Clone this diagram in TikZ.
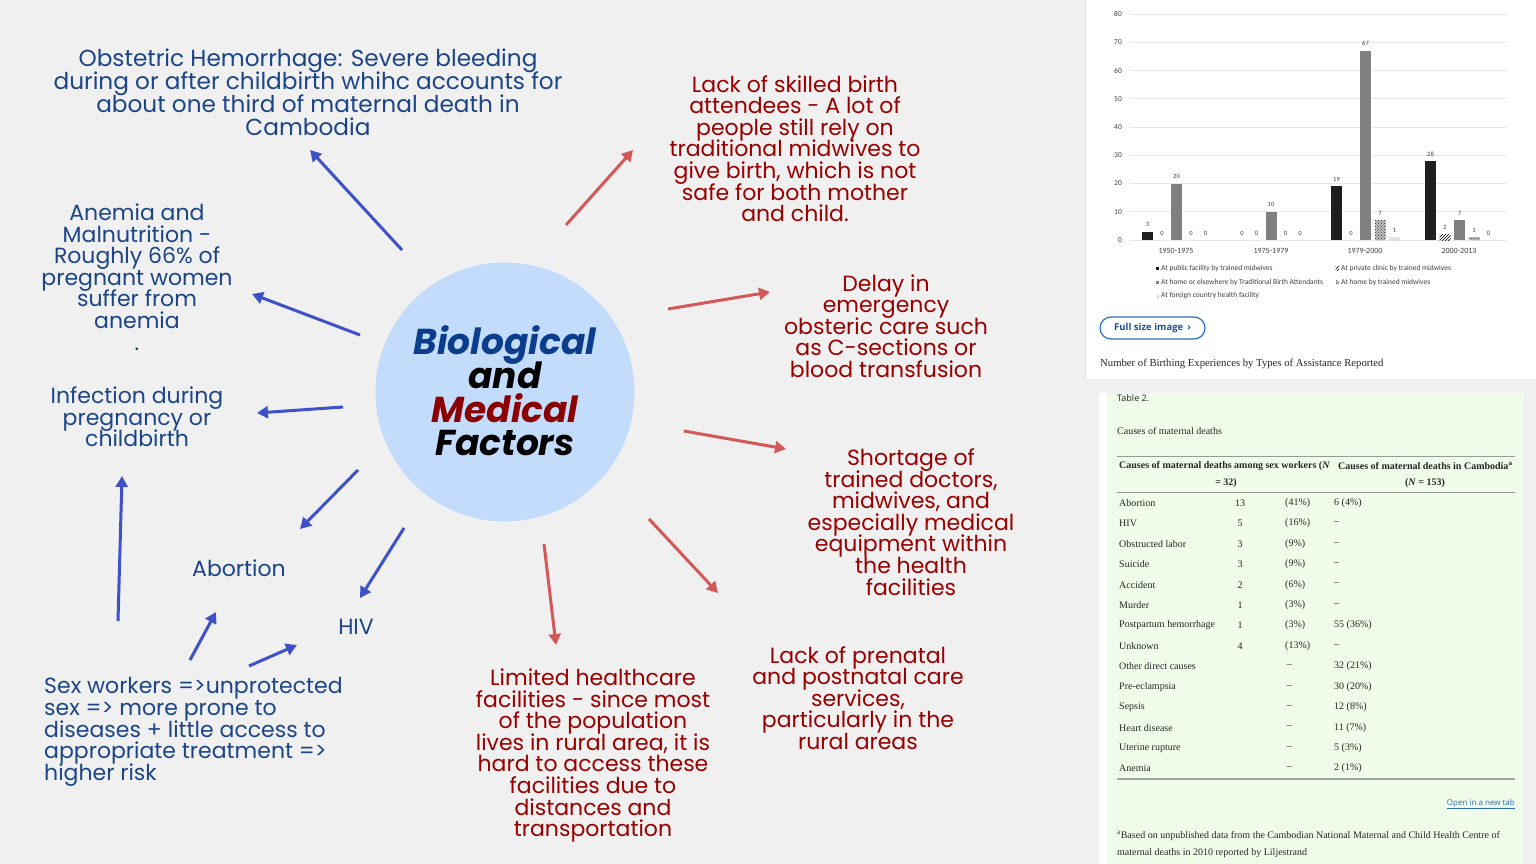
\documentclass[tikz,border=0pt]{standalone}
\usepackage{fontspec}
\setmainfont{Poppins}
\newfontfamily\popf{Poppins}
\newfontfamily\carl{Carlito}
\newfontfamily\serf{Liberation Serif}
\newfontfamily\osans{Open Sans}
\usetikzlibrary{arrows.meta,patterns}
\definecolor{pagebg}{HTML}{F0F0F0}
\definecolor{blueT}{HTML}{1C4587}
\definecolor{redT}{HTML}{990000}
\definecolor{arrowB}{HTML}{3F51C9}
\definecolor{arrowR}{HTML}{D35858}
\definecolor{circfill}{HTML}{C4DCFB}
\definecolor{titleB}{HTML}{0B3D8C}
\definecolor{titleR}{HTML}{8B0000}
\definecolor{tablebg}{HTML}{F0FCEA}
\definecolor{gridc}{HTML}{E8E8E8}
\definecolor{axisT}{HTML}{404040}
\definecolor{linkB}{HTML}{2A6EBB}
\definecolor{btnB}{HTML}{1D4F91}
\newcommand\bodyfont{\popf\fontsize{22}{21.6}\selectfont}
\newcommand\cbar[3]{%
  \ifdim #2pt>0pt
    \path[#3] ({#1-5.5},240) rectangle ({#1+5.5},{240-2.825*#2});
  \fi
  \node[vlab] at ({#1},{240-2.825*#2-7}) {#2};
}
\newcommand\trow[5]{%
  \node[tcell,anchor=west] at (1119,#1) {#2};
  \node[tcell] at (1240,#1) {#3};
  \node[tcell,anchor=west] at (1285,#1) {#4};
  \node[tcell,anchor=west] at (1334,#1) {#5};
}
\tikzset{
  bluetxt/.style={text=blueT, align=center, font=\bodyfont, inner sep=0pt},
  redtxt/.style={text=redT, align=center, font=\bodyfont, inner sep=0pt},
  barrow/.style={draw=arrowB, line width=3pt, -{Triangle[length=11pt,width=12pt]}},
  rarrow/.style={draw=arrowR, line width=3pt, -{Triangle[length=11pt,width=12pt]}},
  vlab/.style={font=\carl\fontsize{6.5}{7}\selectfont, text=axisT, inner sep=0pt},
  ylab/.style={font=\carl\fontsize{7.5}{8}\selectfont, text=axisT, inner sep=0pt, anchor=east},
  clab/.style={font=\carl\fontsize{8}{9}\selectfont, text=axisT, inner sep=0pt},
  leg/.style={font=\carl\fontsize{7.5}{8}\selectfont, text=axisT, inner sep=0pt, anchor=west},
  bara/.style={fill=black!88},
  barb/.style={pattern={north east lines}, pattern color=black},
  barc/.style={fill=black!50},
  bard/.style={fill=black!25, postaction={pattern=crosshatch dots, pattern color=black!80}},
  bare/.style={fill=black!8, postaction={pattern=dots, pattern color=black!60}},
  tcell/.style={font=\serf\fontsize{10}{12}\selectfont, text=black!85, inner sep=0pt},
  thead/.style={font=\serf\bfseries\fontsize{10}{12}\selectfont, text=black!85, inner sep=0pt},
}
\begin{document}
\lineskiplimit=-100pt\relax
\lineskip=0pt\relax
\begin{tikzpicture}[x=1pt,y=-1pt]
\useasboundingbox (0,0) rectangle (1536,864);
\fill[pagebg] (0,0) rectangle (1536,864);

% ---------- chart panel ----------
\fill[white] (1086,0) rectangle (1536,379);
\draw[black!12] (1085.5,0) -- (1085.5,379);
\foreach \v in {0,10,...,80} {
  \draw[gridc, line width=0.8pt] (1130,{240-2.825*\v}) -- (1507,{240-2.825*\v});
  \node[ylab] at (1122,{240-2.825*\v}) {\v};
}
% group 1
\cbar{1147.5}{3}{bara}
\cbar{1162}{0}{barb}
\cbar{1176.5}{20}{barc}
\cbar{1191}{0}{bard}
\cbar{1205.5}{0}{bare}
% group 2
\cbar{1242}{0}{bara}
\cbar{1256.5}{0}{barb}
\cbar{1271}{10}{barc}
\cbar{1285.5}{0}{bard}
\cbar{1300}{0}{bare}
% group 3
\cbar{1336.5}{19}{bara}
\cbar{1351}{0}{barb}
\cbar{1365.5}{67}{barc}
\cbar{1380}{7}{bard}
\cbar{1394.5}{1}{bare}
% group 4
\cbar{1430.5}{28}{bara}
\cbar{1445}{2}{barb}
\cbar{1459.5}{7}{barc}
\cbar{1474}{1}{bard}
\cbar{1488.5}{0}{bare}
\node[clab] at (1176,251) {1950-1975};
\node[clab] at (1271,251) {1975-1979};
\node[clab] at (1365,251) {1979-2000};
\node[clab] at (1459,251) {2000-2013};
% legend
\path[bara] (1155.5,266.5) rectangle (1159,270);
\node[leg] at (1161,268) {At public facility by trained midwives};
\path[barb] (1335.5,266.5) rectangle (1339,270);
\node[leg] at (1341,268) {At private clinic by trained midwives};
\path[barc] (1155.5,280.5) rectangle (1159,284);
\node[leg] at (1161,282) {At home or elsewhere by Traditional Birth Attendants};
\path[bard] (1335.5,280.5) rectangle (1339,284);
\node[leg] at (1341,282) {At home by trained midwives};
\path[bare] (1155.5,294.5) rectangle (1159,298);
\node[leg] at (1161,296) {At foreign country health facility};
% button and caption
\node[draw=linkB, line width=1.2pt, rounded corners=11pt, minimum width=105pt, minimum height=22pt,
      inner sep=0pt, text=btnB, font=\osans\bfseries\fontsize{9.5}{11}\selectfont] (btn) at (1152.5,328) {Full size image \,›};
\node[anchor=west, inner sep=0pt, text=black!85, font=\serf\fontsize{10.7}{12}\selectfont] (cap) at (1100,364)
  {Number of Birthing Experiences by Types of Assistance Reported};

% ---------- table panel ----------
\fill[white] (1099,393) rectangle (1107,864);
\fill[tablebg] (1107,393) rectangle (1525,864);
\draw[black!8] (1524.5,393) -- (1524.5,864);
\node[anchor=west, inner sep=0pt, text=black!85, font=\osans\fontsize{9}{11}\selectfont] (tt) at (1117,398) {Table 2.};
\node[anchor=west, inner sep=0pt, text=black!85, font=\serf\fontsize{10}{12}\selectfont] (tsub) at (1117,431) {Causes of maternal deaths};
\draw[black!40, line width=1pt] (1117,456) -- (1515,456);
\node[thead, anchor=west] at (1119,466) {Causes of maternal deaths among sex workers (\textit{N}};
\node[thead] at (1226,483) {= 32)};
\node[thead, anchor=west] at (1338,466) {Causes of maternal deaths in Cambodia\textsuperscript{a}};
\node[thead] at (1425,483) {(\textit{N} = 153)};
\draw[black!40, line width=1pt] (1117,492.5) -- (1515,492.5);
\trow{503}{Abortion}{13}{(41\%)}{6 (4\%)}
\trow{523.4}{HIV}{5}{(16\%)}{–}
\trow{543.8}{Obstructed labor}{3}{(9\%)}{–}
\trow{564.3}{Suicide}{3}{(9\%)}{–}
\trow{584.7}{Accident}{2}{(6\%)}{–}
\trow{605.1}{Murder}{1}{(3\%)}{–}
\trow{625.5}{Postpartum hemorrhage}{1}{(3\%)}{55 (36\%)}
\trow{646}{Unknown}{4}{(13\%)}{–}
\trow{666.4}{Other direct causes}{}{\,–}{32 (21\%)}
\trow{686.8}{Pre-eclampsia}{}{\,–}{30 (20\%)}
\trow{707.2}{Sepsis}{}{\,–}{12 (8\%)}
\trow{727.6}{Heart disease}{}{\,–}{11 (7\%)}
\trow{748.1}{Uterine rupture}{}{\,–}{5 (3\%)}
\trow{768.5}{Anemia}{}{\,–}{2 (1\%)}
\draw[black!35, line width=1.6pt] (1117,779) -- (1515,779);
\node[anchor=east, inner sep=0pt, text=linkB, font=\osans\fontsize{8}{10}\selectfont] (lnk) at (1515,804) {\underline{Open in a new tab}};
\node[anchor=west, inner sep=0pt, text=black!85, font=\serf\fontsize{10}{12}\selectfont] (fn1) at (1117,836)
  {\textsuperscript{a}Based on unpublished data from the Cambodian National Maternal and Child Health Centre of};
\node[anchor=west, inner sep=0pt, text=black!85, font=\serf\fontsize{10}{12}\selectfont] (fn2) at (1117,853)
  {maternal deaths in 2010 reported by Liljestrand};

% ---------- central circle ----------
\node[circle, fill=circfill, minimum size=259pt, inner sep=0pt] (circ) at (505,392) {};
\node[align=center, inner sep=0pt, font=\popf\bfseries\itshape\fontsize{36}{33.7}\selectfont] (title) at (505,391)
  {\textcolor{titleB}{Biological}\\and\\\textcolor{titleR}{Medical}\\Factors};

% ---------- text blocks ----------
\node[bluetxt, font=\popf\fontsize{23.2}{23}\selectfont] (obst) at (308,92)
  {Obstetric Hemorrhage: Severe bleeding\\during or after childbirth whihc accounts for\\about one third of maternal death in\\Cambodia};
\node[bluetxt] (anem) at (137,277)
  {Anemia and\\Malnutrition -\\Roughly 66\% of\\pregnant women\\suffer from\\anemia\\.};
\node[bluetxt] (infe) at (137,417) {Infection during\\pregnancy or\\childbirth};
\node[bluetxt] (abor) at (239,568) {Abortion};
\node[bluetxt] (hiv) at (356,627) {HIV};
\node[bluetxt, align=left, anchor=west] (sexw) at (44,732)
  {Sex workers =>unprotected\\sex => more prone to\\diseases + little access to\\appropriate treatment =>\\higher risk};
\node[redtxt] (skil) at (795,148.5)
  {Lack of skilled birth\\attendees - A lot of\\people still rely on\\traditional midwives to\\give birth, which is not\\safe for both mother\\and child.};
\node[redtxt] (dela) at (886,326)
  {Delay in\\emergency\\obsteric care such\\as C-sections or\\blood transfusion};
\node[redtxt] (shor) at (911,522)
  {Shortage of\\trained doctors,\\midwives, and\\especially medical\\equipment within\\the health\\facilities};
\node[redtxt] (pren) at (858,698)
  {Lack of prenatal\\and postnatal care\\services,\\particularly in the\\rural areas};
\node[redtxt] (limi) at (593,755.5)
  {Limited healthcare\\facilities - since most\\of the population\\lives in rural area, it is\\hard to access these\\facilities due to\\distances and\\transportation};

% ---------- arrows ----------
\coordinate (b1s) at (402,250); \coordinate (b1e) at (310,150);
\coordinate (b2s) at (360,335); \coordinate (b2e) at (252,294);
\coordinate (b3s) at (343,407); \coordinate (b3e) at (257,413);
\coordinate (b4s) at (358,470); \coordinate (b4e) at (300,529);
\coordinate (b5s) at (404,528); \coordinate (b5e) at (360,598);
\coordinate (b6s) at (118,621); \coordinate (b6e) at (122,476);
\coordinate (b7s) at (190,660); \coordinate (b7e) at (216,612);
\coordinate (b8s) at (249,666); \coordinate (b8e) at (297,645);
\draw[barrow] (b1s) -- (b1e);
\draw[barrow] (b2s) -- (b2e);
\draw[barrow] (b3s) -- (b3e);
\draw[barrow] (b4s) -- (b4e);
\draw[barrow] (b5s) -- (b5e);
\draw[barrow] (b6s) -- (b6e);
\draw[barrow] (b7s) -- (b7e);
\draw[barrow] (b8s) -- (b8e);
\coordinate (r1s) at (566,225); \coordinate (r1e) at (633,150);
\coordinate (r2s) at (668,309); \coordinate (r2e) at (770,292);
\coordinate (r3s) at (684,431); \coordinate (r3e) at (786,449);
\coordinate (r4s) at (649,519); \coordinate (r4e) at (718,593);
\coordinate (r5s) at (544,544); \coordinate (r5e) at (556,645);
\draw[rarrow] (r1s) -- (r1e);
\draw[rarrow] (r2s) -- (r2e);
\draw[rarrow] (r3s) -- (r3e);
\draw[rarrow] (r4s) -- (r4e);
\draw[rarrow] (r5s) -- (r5e);
\end{tikzpicture}
\end{document}
